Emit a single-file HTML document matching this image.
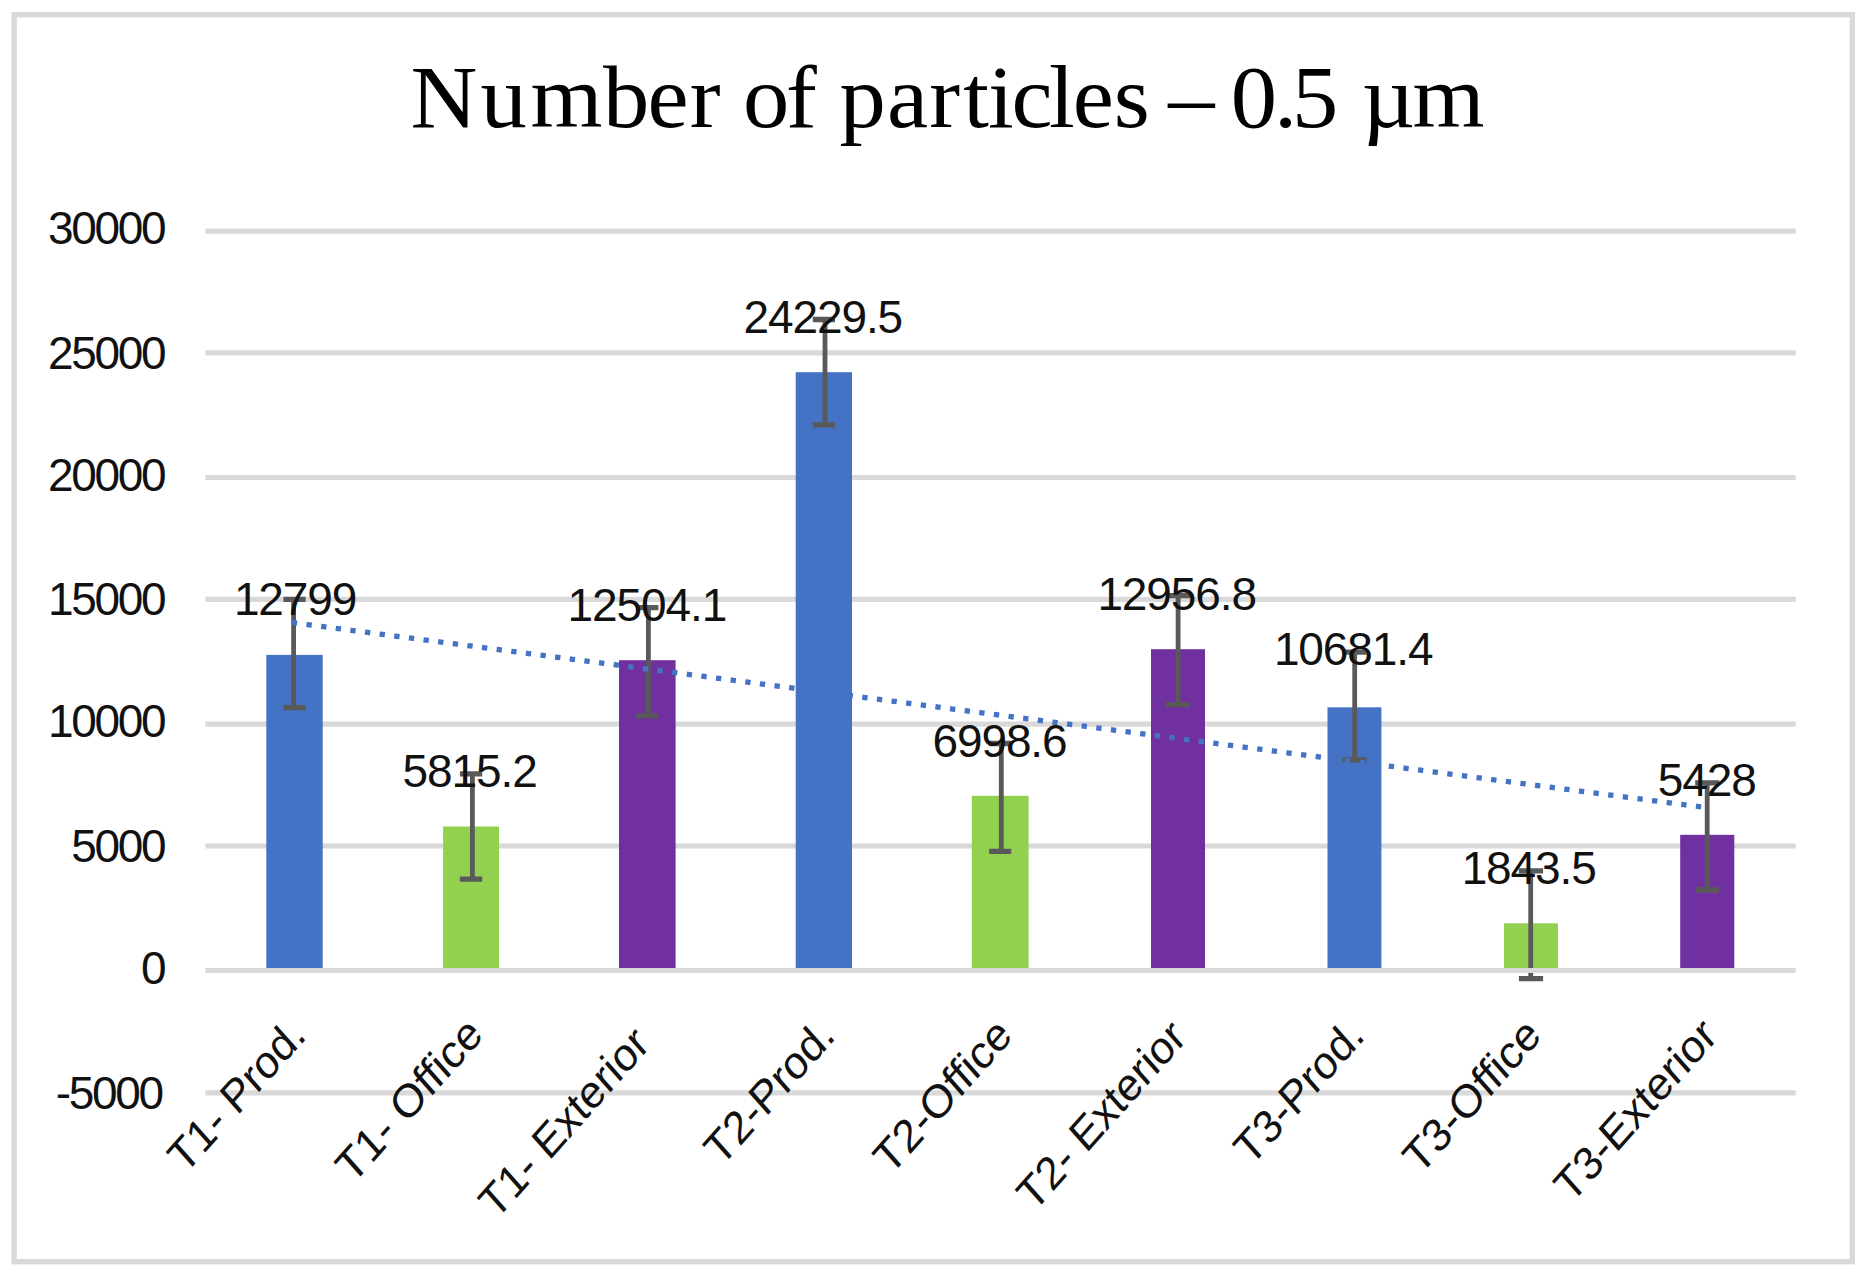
<!DOCTYPE html>
<html lang="en"><head><meta charset="utf-8"><title>Number of particles – 0.5 µm</title>
<style>html,body{margin:0;padding:0;background:#fff;}svg{display:block;}.s{font-family:"Liberation Sans",sans-serif;font-size:46px;fill:#111111;}.c{font-size:41px;}.d{letter-spacing:-1.1px;}.y{letter-spacing:-2.3px;}.t{font-family:"Liberation Serif",serif;font-size:89px;fill:#000;}</style></head><body>
<svg width="1866" height="1275" viewBox="0 0 1866 1275">
<rect x="0" y="0" width="1866" height="1275" fill="#fff"/>
<rect x="14.1" y="14.7" width="1838.2" height="1247" fill="none" stroke="#d9d9d9" stroke-width="5.4"/>
<line x1="205.4" y1="231.2" x2="1795.7" y2="231.2" stroke="#d9d9d9" stroke-width="5.2"/>
<line x1="205.4" y1="352.8" x2="1795.7" y2="352.8" stroke="#d9d9d9" stroke-width="5.2"/>
<line x1="205.4" y1="477.5" x2="1795.7" y2="477.5" stroke="#d9d9d9" stroke-width="5.2"/>
<line x1="205.4" y1="599.3" x2="1795.7" y2="599.3" stroke="#d9d9d9" stroke-width="5.2"/>
<line x1="205.4" y1="724.1" x2="1795.7" y2="724.1" stroke="#d9d9d9" stroke-width="5.2"/>
<line x1="205.4" y1="846.0" x2="1795.7" y2="846.0" stroke="#d9d9d9" stroke-width="5.2"/>
<line x1="205.4" y1="1092.8" x2="1795.7" y2="1092.8" stroke="#d9d9d9" stroke-width="5.2"/>
<rect x="266.3" y="654.9" width="56.4" height="315.6" fill="#4472c4"/>
<rect x="443.1" y="826.5" width="55.9" height="144.0" fill="#92d050"/>
<rect x="619.0" y="660.2" width="56.6" height="310.3" fill="#7030a0"/>
<rect x="795.7" y="372.2" width="56.3" height="598.3" fill="#4472c4"/>
<rect x="971.8" y="795.8" width="56.8" height="174.7" fill="#92d050"/>
<rect x="1151.0" y="649.2" width="54.0" height="321.3" fill="#7030a0"/>
<rect x="1327.5" y="707.3" width="53.9" height="263.2" fill="#4472c4"/>
<rect x="1504.0" y="923.3" width="54.0" height="47.2" fill="#92d050"/>
<rect x="1680.2" y="834.8" width="54.1" height="135.7" fill="#7030a0"/>
<path d="M293.6 599.3V707.6" fill="none" stroke="#595959" stroke-width="4.8"/>
<path d="M283.4 599.3H305.6M283.4 707.6H305.6" fill="none" stroke="#595959" stroke-width="5.3"/>
<path d="M472.4 773.9V879.2" fill="none" stroke="#595959" stroke-width="4.8"/>
<path d="M459.9 773.9H482.2M459.9 879.2H482.2" fill="none" stroke="#595959" stroke-width="5.3"/>
<path d="M648.4 607.6V715.8" fill="none" stroke="#595959" stroke-width="4.8"/>
<path d="M636.2 607.6H658.4M636.2 715.8H658.4" fill="none" stroke="#595959" stroke-width="5.3"/>
<path d="M825.0 319.5V424.9" fill="none" stroke="#595959" stroke-width="4.8"/>
<path d="M812.8 319.5H835.0M812.8 424.9H835.0" fill="none" stroke="#595959" stroke-width="5.3"/>
<path d="M1001.3 743.5V851.3" fill="none" stroke="#595959" stroke-width="4.8"/>
<path d="M989.1 743.5H1011.3M989.1 851.3H1011.3" fill="none" stroke="#595959" stroke-width="5.3"/>
<path d="M1178.1 595.6V704.7" fill="none" stroke="#595959" stroke-width="4.8"/>
<path d="M1165.9 595.6H1190.1M1165.9 704.7H1190.1" fill="none" stroke="#595959" stroke-width="5.3"/>
<path d="M1354.7 652.2V760.0" fill="none" stroke="#595959" stroke-width="4.8"/>
<path d="M1342.4 652.2H1366.5M1342.4 760.0H1366.5" fill="none" stroke="#595959" stroke-width="5.3"/>
<path d="M1530.7 870.9V978.7" fill="none" stroke="#595959" stroke-width="4.8"/>
<path d="M1518.9 870.9H1543.1M1518.9 978.7H1543.1" fill="none" stroke="#595959" stroke-width="5.3"/>
<path d="M1707.2 782.9V890.0" fill="none" stroke="#595959" stroke-width="4.8"/>
<path d="M1695.2 782.9H1719.3M1695.2 890.0H1719.3" fill="none" stroke="#595959" stroke-width="5.3"/>
<line x1="205.4" y1="970.5" x2="1795.7" y2="970.5" stroke="#d9d9d9" stroke-width="5.2"/>
<line x1="294.5" y1="622.9" x2="1704.0" y2="807.3" stroke="#4472c4" stroke-width="5.3" stroke-dasharray="0.01 14.74" stroke-linecap="square"/>
<g>
<text class="s y" x="164.3" y="244.0" text-anchor="end">30000</text>
<text class="s y" x="164.3" y="368.5" text-anchor="end">25000</text>
<text class="s y" x="164.3" y="490.6" text-anchor="end">20000</text>
<text class="s y" x="164.3" y="615.1" text-anchor="end">15000</text>
<text class="s y" x="164.3" y="737.0" text-anchor="end">10000</text>
<text class="s y" x="164.3" y="861.7" text-anchor="end">5000</text>
<text class="s y" x="164.3" y="984.0" text-anchor="end">0</text>
<text class="s y" x="161.8" y="1108.8" text-anchor="end">-5000</text>
<text class="s d" x="295.1" y="615.2" text-anchor="middle">12799</text>
<text class="s d" x="469.6" y="787.2" text-anchor="middle">5815.2</text>
<text class="s d" x="646.9" y="620.6" text-anchor="middle">12504.1</text>
<text class="s d" x="822.8" y="332.5" text-anchor="middle">24229.5</text>
<text class="s d" x="999.5" y="756.7" text-anchor="middle">6998.6</text>
<text class="s d" x="1176.7" y="609.7" text-anchor="middle">12956.8</text>
<text class="s d" x="1353.2" y="665.0" text-anchor="middle">10681.4</text>
<text class="s d" x="1528.7" y="884.2" text-anchor="middle">1843.5</text>
<text class="s d" x="1706.7" y="795.5" text-anchor="middle">5428</text>
</g>
<g>
<text class="s c" transform="translate(185.1 1175.2) scale(1 1.127) rotate(-45) scale(1.0138 1)">T1- Prod.</text>
<text class="s c" transform="translate(352.8 1185.3) scale(1 1.127) rotate(-45) scale(1.0419 1)">T1- Office</text>
<text class="s c" transform="translate(496.1 1221.1) scale(1 1.127) rotate(-45) scale(1.0254 1)">T1- Exterior</text>
<text class="s c" transform="translate(721.3 1167.7) scale(1 1.127) rotate(-45) scale(1.0244 1)">T2-Prod.</text>
<text class="s c" transform="translate(890.5 1176.5) scale(1 1.127) rotate(-45) scale(1.0408 1)">T2-Office</text>
<text class="s c" transform="translate(1033.9 1213.1) scale(1 1.127) rotate(-45) scale(1.0181 1)">T2- Exterior</text>
<text class="s c" transform="translate(1251.1 1167.2) scale(1 1.127) rotate(-45) scale(1.0200 1)">T3-Prod.</text>
<text class="s c" transform="translate(1419.9 1176.2) scale(1 1.127) rotate(-45) scale(1.0375 1)">T3-Office</text>
<text class="s c" transform="translate(1571.2 1204.4) scale(1 1.127) rotate(-45) scale(1.0324 1)">T3-Exterior</text>
</g>
<text class="t" transform="translate(0 127.3) scale(1.04 1)" x="394.6 462.1 510.0 579.8 622.7 663.3 695.3 714.4 755.8 786.9 807.2 852.9 893.4 926.2 950.1 972.7 1008.7 1031.4 1071.0 1104.9 1123.3 1168.0 1183.4 1224.9 1242.4 1285.7 1309.3 1358.2">Number of particles – 0.5 µm</text>
</svg></body></html>
